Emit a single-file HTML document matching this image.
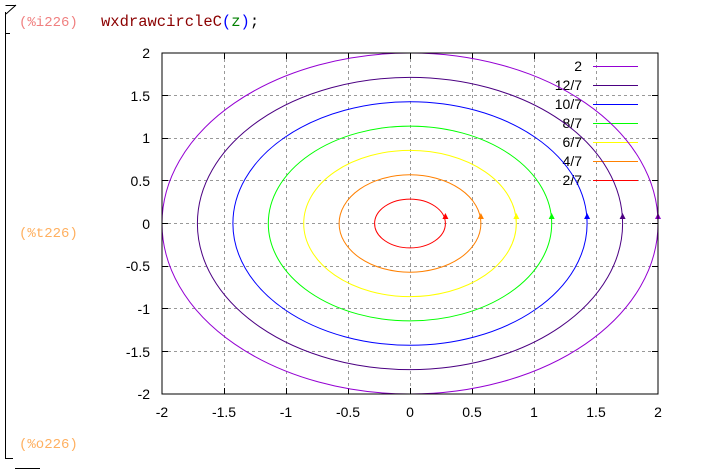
<!DOCTYPE html>
<html><head><meta charset="utf-8"><style>
html,body{margin:0;padding:0;background:#fff;width:718px;height:476px;overflow:hidden}
</style></head><body>
<svg width="718" height="476" xmlns="http://www.w3.org/2000/svg" font-family="Liberation Sans, sans-serif">
<g stroke="#000" stroke-width="1" fill="none">
<path d="M5.5 12 V458.5 H13"/>
<path d="M5.5 33.5 H10"/>
<path d="M6 14 L16 5"/>
<path d="M5.5 5.5 H16"/>
<path d="M15 468.5 H40"/>
</g>
<text x="19" y="26" font-family="Liberation Mono, monospace" font-size="14" fill="#f08080">(%i226)</text>
<text x="101" y="26" font-family="Liberation Mono, monospace" font-size="15.5" fill="#8b0000">wxdrawcircleC<tspan fill="#0000ff">(</tspan><tspan fill="#008000">z</tspan><tspan fill="#0000ff">)</tspan><tspan fill="#000">;</tspan></text>
<text x="19" y="237" font-family="Liberation Mono, monospace" font-size="14" fill="#ffb060">(%t226)</text>
<text x="19" y="448" font-family="Liberation Mono, monospace" font-size="14" fill="#ffb060">(%o226)</text>
<g stroke="#999" stroke-width="1" stroke-dasharray="3,3">
<path d="M224.5 53V394M286.5 53V394M348.5 53V394M410.5 53V394M472.5 53V394M534.5 53V394M596.5 53V394"/>
<path d="M162 95.5H658M162 138.5H658M162 180.5H658M162 223.5H658M162 266.5H658M162 308.5H658M162 351.5H658"/>
</g>
<g stroke="#000" stroke-width="1">
<path d="M224.5 394v-6M286.5 394v-6M348.5 394v-6M410.5 394v-6M472.5 394v-6M534.5 394v-6M596.5 394v-6"/>
<path d="M224.5 53v6M286.5 53v6M348.5 53v6M410.5 53v6M472.5 53v6M534.5 53v6M596.5 53v6"/>
<path d="M162 95.5h6M162 138.5h6M162 180.5h6M162 223.5h6M162 266.5h6M162 308.5h6M162 351.5h6"/>
<path d="M658 95.5h-6M658 138.5h-6M658 180.5h-6M658 223.5h-6M658 266.5h-6M658 308.5h-6M658 351.5h-6"/>
</g>
<g font-size="14" fill="#000" text-anchor="end">
<text x="150" y="58">2</text><text x="150" y="101">1.5</text><text x="150" y="143">1</text>
<text x="150" y="186">0.5</text><text x="150" y="229">0</text><text x="150" y="271">-0.5</text>
<text x="150" y="314">-1</text><text x="150" y="357">-1.5</text><text x="150" y="399">-2</text>
</g>
<g font-size="14" fill="#000" text-anchor="middle">
<text x="162" y="417">-2</text><text x="224" y="417">-1.5</text><text x="286" y="417">-1</text>
<text x="348" y="417">-0.5</text><text x="410" y="417">0</text><text x="472" y="417">0.5</text>
<text x="534" y="417">1</text><text x="596" y="417">1.5</text><text x="658" y="417">2</text>
</g>
<g font-size="14" fill="#000" text-anchor="end">
<text x="582" y="71">2</text><text x="582" y="90">12/7</text><text x="582" y="109">10/7</text>
<text x="582" y="128">8/7</text><text x="582" y="147">6/7</text><text x="582" y="166">4/7</text><text x="582" y="185">2/7</text>
</g>
<g stroke-width="1">
<path d="M593 66.5h45" stroke="#9400d3"/><path d="M593 85.5h45" stroke="#4b0082"/>
<path d="M593 104.5h45" stroke="#0000ff"/><path d="M593 123.5h45" stroke="#00ff00"/>
<path d="M593 142.5h45" stroke="#ffff00"/><path d="M593 161.5h45" stroke="#ff8000"/>
<path d="M593 180.5h45" stroke="#ff0000"/>
</g>
<g fill="none" stroke-width="1">
<ellipse cx="410" cy="223.5" rx="248" ry="170.5" stroke="#9400d3"/>
<ellipse cx="410" cy="223.5" rx="212.6" ry="146.1" stroke="#4b0082"/>
<ellipse cx="410" cy="223.5" rx="177.1" ry="121.8" stroke="#0000ff"/>
<ellipse cx="410" cy="223.5" rx="141.7" ry="97.4" stroke="#00ff00"/>
<ellipse cx="410" cy="223.5" rx="106.3" ry="73.1" stroke="#ffff00"/>
<ellipse cx="410" cy="223.5" rx="70.9" ry="48.7" stroke="#ff8000"/>
<ellipse cx="410" cy="223.5" rx="35.4" ry="24.4" stroke="#ff0000"/>
</g>
<g>
<path d="M658 213l-3 6h6z" fill="#9400d3"/>
<path d="M622.6 213l-3 6h6z" fill="#4b0082"/>
<path d="M587.1 213l-3 6h6z" fill="#0000ff"/>
<path d="M551.7 213l-3 6h6z" fill="#00ff00"/>
<path d="M516.3 213l-3 6h6z" fill="#ffff00"/>
<path d="M480.9 213l-3 6h6z" fill="#ff8000"/>
<path d="M445.4 213l-3 6h6z" fill="#ff0000"/>
</g>
<rect x="162" y="53" width="496" height="341" fill="none" stroke="#000" stroke-width="1"/>
</svg>
</body></html>
